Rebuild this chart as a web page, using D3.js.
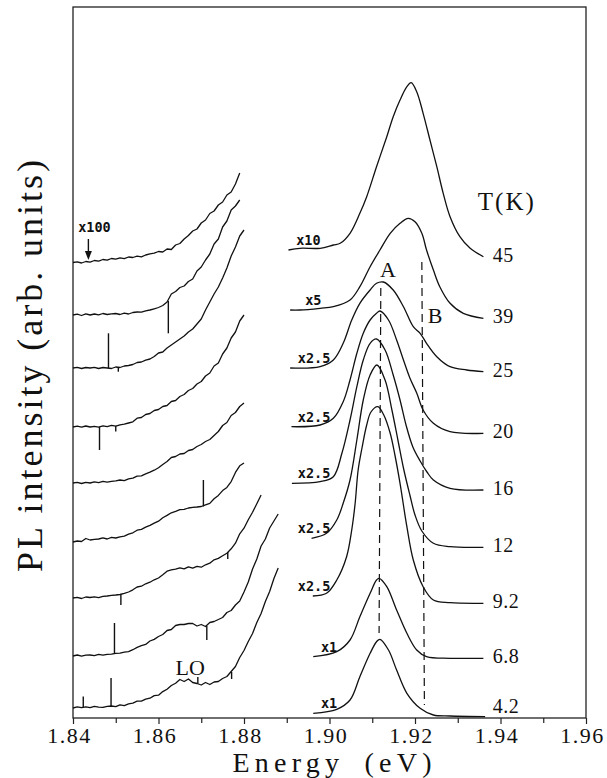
<!DOCTYPE html>
<html>
<head>
<meta charset="utf-8">
<script src="https://cdn.jsdelivr.net/npm/d3@7"></script>
<style>
  html, body { margin: 0; padding: 0; background: #fff; }
  svg { display: block; }
</style>
</head>
<body>
<svg id="chart"></svg>
<script>
// one spectrum per temperature, top to bottom
const temps = ["45", "39", "25", "20", "16", "12", "9.2", "6.8", "4.2"];
const factors = ["x10", "x5", "x2.5", "x2.5", "x2.5", "x2.5", "x2.5", "x1", "x1"];
// vertical offset of each spectrum (arb. units)
const offsets = [45.5, 40.3, 35.0, 29.1, 23.5, 17.6, 12.0, 6.2, 1.0];

const xTicks = [1.84, 1.86, 1.88, 1.90, 1.92, 1.94, 1.96];
const xMinorTicks = [1.85, 1.87, 1.89, 1.91, 1.93, 1.95];

// low energy tail (x100), sampled every 1 meV
const tailEnergy = [1.840, 1.841, 1.842, 1.843, 1.844, 1.845, 1.846, 1.847, 1.848, 1.849,
  1.850, 1.851, 1.852, 1.853, 1.854, 1.855, 1.856, 1.857, 1.858, 1.859,
  1.860, 1.861, 1.862, 1.863, 1.864, 1.865, 1.866, 1.867, 1.868, 1.869,
  1.870, 1.871, 1.872, 1.873, 1.874, 1.875, 1.876, 1.877, 1.878, 1.879,
  1.880, 1.881, 1.882, 1.883, 1.884, 1.885, 1.886, 1.887, 1.888];

const tail45 = [0.05, 0.12, 0.0, 0.15, 0.08, 0.25, 0.18, 0.35, 0.28, 0.45, 0.38, 0.52, 0.44, 0.6, 0.55, 0.68,
  0.62, 0.8, 0.92, 0.98, 1.15, 1.1, 1.4, 1.35, 1.8, 1.95, 2.4, 2.75, 3.2, 3.4, 4.0, 4.3, 4.95, 5.2, 5.8, 6.1,
  6.8, 7.1, 7.9, 9.0];
const tail39 = [0.0, 0.08, -0.05, 0.12, 0.0, 0.1, 0.02, 0.15, 0.05, 0.12, 0.15, 0.05, 0.18, 0.1, 0.25, 0.3,
  0.28, 0.42, 0.5, 0.62, 0.75, 0.95, 1.3, 2.1, 2.35, 2.75, 2.9, 3.35, 3.6, 4.4, 4.8, 5.5, 6.1, 7.1, 7.6, 8.8,
  9.4, 10.5, 10.9, 11.5];
const tail25 = [0.0, 0.06, -0.05, 0.05, 0.0, 0.06, -0.05, 0.05, 0.0, -0.05, 0.1, 0.05, 0.2, 0.25, 0.35, 0.55,
  0.6, 0.78, 0.9, 1.15, 1.5, 1.6, 2.0, 2.3, 2.6, 2.9, 3.2, 3.6, 3.9, 4.4, 4.9, 5.8, 6.6, 7.4, 8.1, 9.0, 10.0,
  11.2, 12.1, 13.2, 13.8];
const tail20 = [0.0, 0.08, -0.02, 0.1, 0.0, 0.06, -0.02, 0.12, 0.04, 0.16, 0.08, 0.22, 0.28, 0.4, 0.52, 0.88,
  0.95, 1.25, 1.35, 1.65, 1.75, 2.05, 2.15, 2.55, 2.65, 3.05, 3.25, 3.65, 3.85, 4.3, 4.55, 5.1, 5.4, 6.1, 6.4,
  7.3, 7.9, 8.9, 9.5, 10.6, 11.2];
const tail16 = [0.0, 0.06, -0.05, 0.06, 0.0, 0.12, 0.04, 0.16, 0.08, 0.16, 0.22, 0.3, 0.24, 0.42, 0.48, 0.68,
  0.72, 0.92, 1.08, 1.28, 1.52, 1.85, 2.15, 2.55, 2.65, 2.9, 2.95, 3.25, 3.35, 3.65, 3.85, 4.15, 4.35, 4.75,
  5.15, 5.75, 6.05, 6.75, 7.05, 7.65, 8.0];
const tail12 = [0.0, 0.1, 0.05, 0.35, 0.2, 0.26, 0.3, 0.42, 0.3, 0.46, 0.4, 0.52, 0.58, 0.78, 0.92, 1.18, 1.27,
  1.48, 1.66, 1.88, 2.08, 2.42, 2.66, 2.92, 3.06, 3.24, 3.26, 3.4, 3.46, 3.5, 3.55, 3.72, 3.86, 4.32, 4.66,
  5.14, 5.46, 6.04, 6.96, 7.62, 7.9];
const tail9 = [0.0, 0.06, -0.05, 0.1, 0.05, 0.12, 0.04, 0.16, 0.2, 0.26, 0.3, 0.35, 0.46, 0.6, 0.82, 1.1, 1.18,
  1.42, 1.58, 1.82, 2.0, 2.32, 2.68, 2.82, 2.88, 3.02, 2.92, 3.12, 2.98, 3.16, 3.08, 3.32, 3.48, 3.82, 3.96,
  4.22, 4.48, 4.92, 5.48, 6.42, 6.98, 7.82, 8.58, 9.42, 10.3];
const tail68 = [0.0, 0.1, -0.02, 0.08, 0.1, 0.03, 0.16, 0.08, 0.17, 0.18, 0.27, 0.28, 0.38, 0.43, 0.63, 0.86,
  1.04, 1.16, 1.5, 1.66, 1.95, 2.15, 2.55, 2.65, 3.05, 3.15, 3.15, 3.25, 3.25, 3.0, 3.15, 2.95, 3.35, 3.45,
  3.65, 3.85, 4.35, 4.55, 5.1, 5.5, 6.4, 7.4, 8.7, 9.7, 11.0, 11.7, 12.8, 13.5, 14.2];
const tail42 = [0.0, 0.12, 0.04, 0.12, 0.03, 0.17, 0.08, 0.06, 0.16, 0.2, 0.13, 0.32, 0.24, 0.42, 0.48, 0.68,
  0.68, 0.88, 0.98, 1.24, 1.28, 1.64, 1.88, 2.25, 2.48, 2.85, 2.65, 2.9, 2.55, 2.45, 2.3, 2.55, 2.35, 2.6,
  2.65, 2.95, 3.15, 3.65, 4.15, 5.05, 5.75, 6.65, 7.45, 8.55, 9.45, 10.65, 11.65, 12.95, 14.0];
const tailSpectra = [tail45, tail39, tail25, tail20, tail16, tail12, tail9, tail68, tail42];

// sharp lines on the tails: [spectrum, energy, level, tip]
const tailSpikes = [
  [1, 1.8623, 1.4, -1.83], [2, 1.8483, 0.0, 3.47], [2, 1.8506, 0.08, -0.37],
  [3, 1.8462, 0.02, -2.3], [3, 1.8500, 0.1, -0.45], [5, 1.8705, 3.55, 6.2],
  [6, 1.8512, 0.38, -0.7], [6, 1.8762, 4.6, 3.9], [7, 1.8497, 0.26, 3.3],
  [7, 1.8713, 3.0, 1.6], [8, 1.8424, 0.08, 1.15], [8, 1.8489, 0.16, 3.0],
  [8, 1.8692, 2.42, 3.1], [8, 1.8771, 3.6, 2.9]
];

// exciton emission: [energy (eV), intensity]
const peak45 = [[1.8904, 1.3], [1.8931, 1.47], [1.8978, 1.47], [1.9009, 1.8], [1.9025, 1.97], [1.9048, 2.97],
  [1.9071, 4.97], [1.9087, 6.63], [1.9110, 9.63], [1.9134, 12.63], [1.9149, 14.63], [1.9165, 16.3],
  [1.9181, 17.63], [1.9191, 18.03], [1.9204, 17.13], [1.9219, 14.97], [1.9235, 12.3], [1.9251, 9.63],
  [1.9266, 6.97], [1.9282, 4.63], [1.9305, 2.63], [1.9329, 1.47], [1.9360, 0.63]];
const peak39 = [[1.8908, 0.5], [1.8931, 0.5], [1.8978, 0.67], [1.9009, 0.83], [1.9048, 1.5], [1.9071, 2.83],
  [1.9095, 4.83], [1.9118, 6.5], [1.9142, 8.17], [1.9165, 9.17], [1.9184, 9.67], [1.9200, 9.33],
  [1.9216, 8.17], [1.9227, 6.5], [1.9243, 4.5], [1.9258, 2.83], [1.9282, 1.17], [1.9313, 0.17], [1.9360, -0.33]];
const peak25 = [[1.8908, 0.0], [1.8978, 0.13], [1.9009, 0.8], [1.9032, 2.47], [1.9052, 4.8], [1.9071, 6.47],
  [1.9095, 7.8], [1.9110, 8.47], [1.9126, 8.6], [1.9149, 7.8], [1.9173, 6.13], [1.9196, 4.13], [1.9212, 3.47],
  [1.9227, 2.47], [1.9251, 1.13], [1.9282, 0.13], [1.9321, -0.2], [1.9360, -0.37]];
const peak20 = [[1.8911, 0.03], [1.8978, 0.2], [1.9009, 0.87], [1.9032, 2.53], [1.9048, 4.7], [1.9064, 7.37],
  [1.9079, 9.37], [1.9095, 10.7], [1.9110, 11.37], [1.9118, 11.6], [1.9138, 10.7], [1.9157, 8.7],
  [1.9173, 6.7], [1.9188, 4.9], [1.9204, 3.4], [1.9219, 1.7], [1.9243, 0.37], [1.9282, -0.47], [1.9360, -0.63]];
const peak16 = [[1.8912, -0.03], [1.8978, 0.13], [1.9009, 0.63], [1.9029, 2.97], [1.9048, 6.3], [1.9064, 9.63],
  [1.9079, 12.3], [1.9095, 13.97], [1.9110, 14.4], [1.9130, 13.3], [1.9149, 10.8], [1.9165, 8.3],
  [1.9179, 5.8], [1.9195, 3.6], [1.9212, 2.2], [1.9228, 1.1], [1.9243, 0.3], [1.9282, -0.53], [1.9360, -0.7]];
const peak12 = [[1.8958, 0.37], [1.8993, 0.87], [1.9017, 2.2], [1.9032, 3.87], [1.9048, 6.2], [1.9064, 10.2],
  [1.9079, 14.2], [1.9095, 16.7], [1.9111, 17.7], [1.9130, 16.2], [1.9146, 13.2], [1.9160, 10.2],
  [1.9174, 7.2], [1.9188, 4.7], [1.9200, 2.7], [1.9216, 1.1], [1.9243, -0.13], [1.9282, -0.47], [1.9360, -0.53]];
const peak9 = [[1.8961, 0.2], [1.8993, 0.47], [1.9017, 1.8], [1.9040, 4.13], [1.9052, 6.8], [1.9060, 9.47],
  [1.9067, 12.8], [1.9076, 15.0], [1.9087, 17.3], [1.9097, 18.6], [1.9113, 19.13], [1.9127, 18.3],
  [1.9142, 16.47], [1.9153, 14.3], [1.9165, 11.47], [1.9181, 7.13], [1.9196, 3.8], [1.9219, 1.13],
  [1.9243, -0.2], [1.9282, -0.47], [1.9360, -0.53]];
const peak68 = [[1.8962, -0.07], [1.9017, 0.43], [1.9048, 1.6], [1.9071, 3.93], [1.9095, 6.27], [1.9110, 7.6],
  [1.9116, 7.77], [1.9134, 6.93], [1.9157, 4.6], [1.9181, 2.27], [1.9204, 0.6], [1.9227, -0.07],
  [1.9282, -0.23], [1.9360, -0.23]];
const peak42 = [[1.8962, -0.53], [1.9017, -0.13], [1.9048, 0.8], [1.9071, 3.13], [1.9095, 5.47], [1.9110, 6.63],
  [1.9118, 6.87], [1.9138, 5.8], [1.9157, 3.8], [1.9181, 1.47], [1.9212, -0.03], [1.9243, -0.7],
  [1.9282, -0.8], [1.9364, -0.87]];
const peakSpectra = [peak45, peak39, peak25, peak20, peak16, peak12, peak9, peak68, peak42];

// guide lines through the A and B peaks: [energy, level]
const lineA = [[1.9120, 43.0], [1.9116, 8.5]];
const lineB = [[1.9216, 45.6], [1.9222, 1.3]];

const width = 607, height = 778;
const serif = "'Liberation Serif', 'DejaVu Serif', serif";
const mono = "'DejaVu Sans Mono', monospace";

const svg = d3.select("#chart").attr("width", width).attr("height", height);

const x = d3.scaleLinear().domain([1.84, 1.96]).range([73, 586]);
const y = d3.scaleLinear().domain([0, 71.1]).range([718, 7]);

svg.append("rect")
    .attr("x", x(1.84)).attr("y", y(71.1))
    .attr("width", x(1.96) - x(1.84)).attr("height", y(0) - y(71.1))
    .attr("fill", "none").attr("stroke", "#222").attr("stroke-width", 1.3);

const gx = svg.append("g").attr("transform", `translate(0,${y(0)})`)
    .call(d3.axisBottom(x).tickValues(xTicks).tickSize(6).tickPadding(3).tickFormat(d3.format(".2f")))
    .attr("font-family", serif).attr("font-size", 22);
gx.select(".domain").remove();
gx.selectAll("line").attr("stroke", "#222").attr("stroke-width", 1.2);
gx.selectAll("text").attr("dx", -4)
    .style("font-family", serif).style("font-size", "22px").style("letter-spacing", "1.5px")
    .attr("fill", "#111");

const gm = svg.append("g").attr("transform", `translate(0,${y(0)})`)
    .call(d3.axisBottom(x).tickValues(xMinorTicks).tickSize(5).tickFormat(""));
gm.select(".domain").remove();
gm.selectAll("line").attr("stroke", "#222").attr("stroke-width", 1.2);

svg.append("text")
    .attr("x", 332).attr("y", 772)
    .attr("text-anchor", "middle")
    .attr("textLength", 199).attr("lengthAdjust", "spacing")
    .style("font-family", serif).style("font-size", "28px").style("word-spacing", "8px")
    .attr("fill", "#111")
    .text("Energy (eV)");

svg.append("text")
    .attr("transform", "translate(42,366) rotate(-90)")
    .attr("text-anchor", "middle")
    .attr("textLength", 412).attr("lengthAdjust", "spacing")
    .style("font-family", serif).style("font-size", "36px")
    .attr("fill", "#111")
    .text("PL intensity (arb. units)");

const tailLine = d3.line().x(d => x(d[0])).y(d => y(d[1]));
const peakLine = d3.line().curve(d3.curveCatmullRom.alpha(0.5)).x(d => x(d[0])).y(d => y(d[1]));

const plot = svg.append("g")
    .attr("fill", "none").attr("stroke", "#111").attr("stroke-width", 1.3)
    .attr("stroke-linejoin", "round");

plot.selectAll("path.tail")
    .data(tailSpectra)
    .join("path")
    .attr("class", "tail")
    .attr("d", (s, i) => tailLine(s.map((v, k) => [tailEnergy[k], offsets[i] + v])));

plot.selectAll("line.spike")
    .data(tailSpikes)
    .join("line")
    .attr("class", "spike")
    .attr("stroke-width", 1.4)
    .attr("x1", d => x(d[1])).attr("x2", d => x(d[1]))
    .attr("y1", d => y(offsets[d[0]] + d[2])).attr("y2", d => y(offsets[d[0]] + d[3]));

plot.selectAll("path.peak")
    .data(peakSpectra)
    .join("path")
    .attr("class", "peak")
    .attr("d", (s, i) => peakLine(s.map(d => [d[0], offsets[i] + d[1]])));

plot.selectAll("path.guide")
    .data([lineA, lineB])
    .join("path")
    .attr("class", "guide")
    .attr("stroke-width", 1.2)
    .attr("stroke-dasharray", "8,5")
    .attr("d", tailLine);

// temperature at the right end of each spectrum
svg.append("g")
    .style("font-family", serif).style("font-size", "20px").style("letter-spacing", "0.5px").attr("fill", "#111")
    .selectAll("text")
    .data(peakSpectra)
    .join("text")
    .attr("x", x(1.9382))
    .attr("y", (s, i) => Math.min(y(offsets[i] + s[s.length - 1][1]) + 5, 713))
    .text((s, i) => temps[i]);

// magnification at the left end of each spectrum
const factorX = { "x10": 1.8922, "x5": 1.8943, "x2.5": 1.8926, "x1": 1.8980 };
svg.append("g")
    .style("font-family", mono).style("font-size", "13.5px").style("font-weight", "bold").attr("fill", "#111")
    .selectAll("text")
    .data(peakSpectra)
    .join("text")
    .attr("x", (s, i) => x(factorX[factors[i]]))
    .attr("y", (s, i) => y(offsets[i] + s[0][1]) - 5)
    .text((s, i) => factors[i]);

svg.append("text")
    .attr("x", x(1.8412)).attr("y", y(48.6))
    .style("font-family", mono).style("font-size", "13.5px").style("font-weight", "bold").attr("fill", "#111")
    .text("x100");

const ax = x(1.8436);
svg.append("line")
    .attr("x1", ax).attr("x2", ax).attr("y1", y(47.9)).attr("y2", y(46.5))
    .attr("stroke", "#111").attr("stroke-width", 1.4);
svg.append("path")
    .attr("d", `M${ax - 3.5},${y(46.7)} L${ax + 3.5},${y(46.7)} L${ax},${y(45.8)} Z`)
    .attr("fill", "#111");

const notes = svg.append("g").style("font-family", serif).attr("fill", "#111");
notes.append("text").attr("x", x(1.9137)).attr("y", y(44.1)).attr("text-anchor", "middle")
    .style("font-size", "22px").text("A");
notes.append("text").attr("x", x(1.9230)).attr("y", y(39.5))
    .style("font-size", "22px").text("B");
notes.append("text").attr("x", x(1.9347)).attr("y", y(50.8))
    .style("font-size", "25px").style("letter-spacing", "2px").text("T(K)");
notes.append("text").attr("x", x(1.8674)).attr("y", y(4.3)).attr("text-anchor", "middle")
    .style("font-size", "22px").text("LO");
</script>
</body>
</html>
